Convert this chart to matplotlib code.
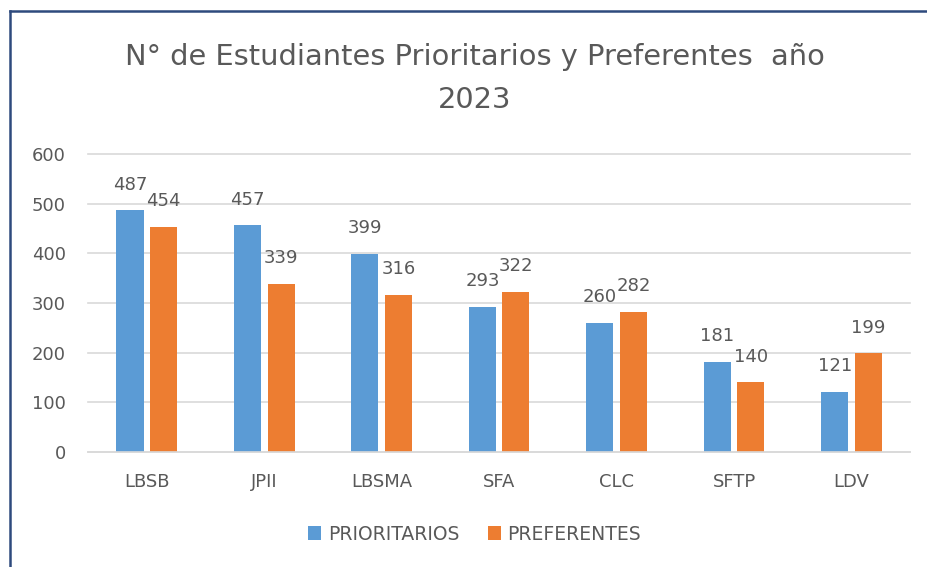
import matplotlib.pyplot as plt
import numpy as np
from matplotlib.lines import Line2D

plt.rcParams['font.family'] = ['DejaVu Sans']

escuelas = ['LBSB', 'JPII', 'LBSMA', 'SFA', 'CLC', 'SFTP', 'LDV']
prioritarios = [487, 457, 399, 293, 260, 181, 121]
preferentes = [454, 339, 316, 322, 282, 140, 199]

azul = '#5B9BD5'
naranja = '#ED7D31'
gris = '#595959'

fig = plt.figure(figsize=(9.27, 5.67), dpi=100)
ax = fig.add_axes([0.095, 0.203, 0.887, 0.525])

x = np.arange(len(escuelas))
w = 0.23
b1 = ax.bar(x - 0.143, prioritarios, w, color=azul, label='PRIORITARIOS')
b2 = ax.bar(x + 0.143, preferentes, w, color=naranja, label='PREFERENTES')

for barras in (b1, b2):
    for r in barras:
        ax.annotate(str(int(r.get_height())), (r.get_x() + r.get_width() / 2, r.get_height()),
                    xytext=(0, 12), textcoords='offset points', ha='center', va='bottom',
                    fontsize=13, color=gris)

ax.set_ylim(0, 600)
ax.set_xlim(-0.5, len(escuelas) - 0.5)
ax.set_yticks(range(0, 601, 100))
ax.set_xticks(x)
ax.set_xticklabels(escuelas)
ax.tick_params(axis='both', length=0, labelsize=13, labelcolor=gris)
ax.tick_params(axis='x', pad=15)
ax.tick_params(axis='y', pad=16)
ax.yaxis.grid(True, color='#D9D9D9', linewidth=1.2)
for gl in ax.get_ygridlines():
    gl.set_clip_on(False)
ax.set_axisbelow(True)
for s in ['top', 'right', 'left']:
    ax.spines[s].set_visible(False)
ax.spines['bottom'].set_color('#D9D9D9')
ax.spines['bottom'].set_linewidth(1.2)

fig.text(0.512, 0.899, 'N° de Estudiantes Prioritarios y Preferentes  año', ha='center', va='center',
         fontsize=20.8, color=gris)
fig.text(0.512, 0.823, '2023', ha='center', va='center', fontsize=20.8, color=gris)

fig.legend(loc='center', bbox_to_anchor=(0.512, 0.058), ncol=2, frameon=False,
           fontsize=13.5, labelcolor=gris, handlelength=0.7, handleheight=0.7,
           columnspacing=1.5, handletextpad=0.35)

# marco
fig.add_artist(Line2D([10 / 927, 10 / 927], [0, 1 - 11 / 567], color='#2E4A7D', linewidth=1.8))
fig.add_artist(Line2D([10 / 927, 1], [1 - 11 / 567, 1 - 11 / 567], color='#2E4A7D', linewidth=1.8))

fig.savefig('out.png', dpi=100)
